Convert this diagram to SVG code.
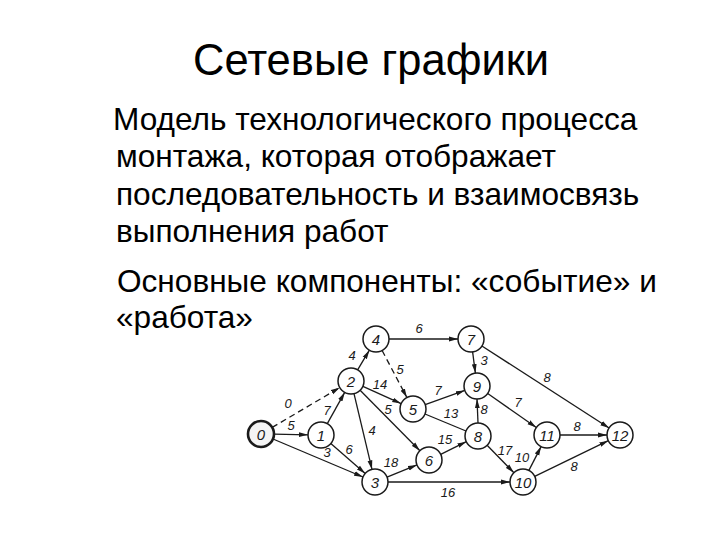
<svg xmlns="http://www.w3.org/2000/svg" width="720" height="540" viewBox="0 0 720 540">
<defs>
<marker id="ah" markerWidth="10" markerHeight="6" refX="9" refY="3" orient="auto" markerUnits="userSpaceOnUse">
<path d="M0,0.6 L9,3 L0,5.4 Z" fill="#1a1a1a"/>
</marker>
</defs>
<style>
.title{font-family:"Liberation Sans",Arial,sans-serif;font-size:43.5px;fill:#000}
.body{font-family:"Liberation Sans",Arial,sans-serif;font-size:31.6px;fill:#000}
.node circle{fill:#fff;stroke:#1a1a1a;stroke-width:1.5}
.node text{font-family:"Liberation Sans",Arial,sans-serif;font-style:italic;font-size:15px;fill:#1a1a1a;text-anchor:middle;dominant-baseline:central}
.edge{stroke:#1a1a1a;stroke-width:1.3;fill:none}
.arr{marker-end:url(#ah)}
.dash{stroke-dasharray:6,4}
.lbl{font-family:"Liberation Sans",Arial,sans-serif;font-style:italic;font-size:13px;fill:#1a1a1a;text-anchor:middle;dominant-baseline:central}
</style>
<rect width="720" height="540" fill="#fff"/>
<text class="title" x="193" y="75">Сетевые графики</text>
<g id="text">
<text class="body" x="113" y="130">Модель технологического процесса</text>
<text class="body" x="116" y="167">монтажа, которая отображает</text>
<text class="body" x="116" y="205">последовательность и взаимосвязь</text>
<text class="body" x="116" y="242">выполнения работ</text>
<text class="body" x="117" y="292">Основные компоненты: «событие» и</text>
<text class="body" x="116" y="328">«работа»</text>
</g>
<g id="connectors">
<line class="edge arr dash" x1="272.2" y1="427.4" x2="339.8" y2="387.6"/>
<line class="edge arr" x1="274" y1="434.2" x2="308" y2="434.8"/>
<line class="edge arr" x1="273" y1="439" x2="363" y2="477"/>
<line class="edge arr" x1="327.3" y1="423.6" x2="344.7" y2="392.4"/>
<line class="edge arr" x1="330.8" y1="443.5" x2="365.2" y2="473.5"/>
<line class="edge arr" x1="357.6" y1="369.8" x2="369.4" y2="350.2"/>
<line class="edge arr" x1="362.9" y1="386.4" x2="401.1" y2="403.6"/>
<line class="edge arr" x1="354" y1="393.6" x2="372" y2="469.4"/>
<line class="edge arr" x1="360.1" y1="390.3" x2="419.9" y2="450.7"/>
<line class="edge arr" x1="389" y1="339" x2="458" y2="339"/>
<line class="edge arr dash" x1="382.1" y1="350.5" x2="406.9" y2="397.5"/>
<line class="edge arr" x1="425.2" y1="404.6" x2="464.8" y2="390.4"/>
<line class="edge" x1="425" y1="414" x2="466" y2="431"/>
<line class="edge arr" x1="387" y1="477.1" x2="417" y2="464.9"/>
<line class="edge arr" x1="440.7" y1="454.3" x2="466.3" y2="441.7"/>
<line class="edge arr" x1="478" y1="423" x2="477" y2="399"/>
<line class="edge arr" x1="472.6" y1="351.9" x2="475.4" y2="373.1"/>
<line class="edge arr" x1="481.9" y1="346" x2="609.1" y2="428"/>
<line class="edge arr" x1="487.7" y1="393.5" x2="536.3" y2="427.5"/>
<line class="edge arr" x1="487.1" y1="445.3" x2="513.9" y2="472.7"/>
<line class="edge arr" x1="528.9" y1="470.4" x2="541.1" y2="446.6"/>
<line class="edge arr" x1="560" y1="435" x2="607" y2="435"/>
<line class="edge arr" x1="534.7" y1="476.3" x2="608.3" y2="440.7"/>
<line class="edge arr" x1="388" y1="482" x2="510" y2="482"/>
<text class="lbl" x="288" y="403">0</text>
<text class="lbl" x="291" y="425">5</text>
<text class="lbl" x="327" y="452">3</text>
<text class="lbl" x="327" y="410">7</text>
<text class="lbl" x="349" y="449">6</text>
<text class="lbl" x="352" y="355">4</text>
<text class="lbl" x="380" y="384">14</text>
<text class="lbl" x="372" y="430">4</text>
<text class="lbl" x="388" y="409">5</text>
<text class="lbl" x="419" y="328">6</text>
<text class="lbl" x="400" y="369">5</text>
<text class="lbl" x="438" y="390">7</text>
<text class="lbl" x="451" y="413">13</text>
<text class="lbl" x="391" y="462">18</text>
<text class="lbl" x="445" y="439">15</text>
<text class="lbl" x="484" y="409">8</text>
<text class="lbl" x="484" y="360">3</text>
<text class="lbl" x="547" y="377">8</text>
<text class="lbl" x="518" y="402">7</text>
<text class="lbl" x="505" y="450">17</text>
<text class="lbl" x="522" y="457">10</text>
<text class="lbl" x="577" y="426">8</text>
<text class="lbl" x="574" y="466">8</text>
<text class="lbl" x="448" y="492">16</text>
</g>
<g id="n0" class="node"><circle cx="261" cy="434" r="13" style="stroke-width:2.6;fill:#f4f4f4"/><text x="261" y="434">0</text></g>
<g id="n1" class="node"><circle cx="321" cy="435" r="13"/><text x="321" y="435">1</text></g>
<g id="n2" class="node"><circle cx="351" cy="381" r="13"/><text x="351" y="381">2</text></g>
<g id="n3" class="node"><circle cx="375" cy="482" r="13"/><text x="375" y="482">3</text></g>
<g id="n4" class="node"><circle cx="376" cy="339" r="13"/><text x="376" y="339">4</text></g>
<g id="n5" class="node"><circle cx="413" cy="409" r="13"/><text x="413" y="409">5</text></g>
<g id="n6" class="node"><circle cx="429" cy="460" r="13"/><text x="429" y="460">6</text></g>
<g id="n7" class="node"><circle cx="471" cy="339" r="13"/><text x="471" y="339">7</text></g>
<g id="n8" class="node"><circle cx="478" cy="436" r="13"/><text x="478" y="436">8</text></g>
<g id="n9" class="node"><circle cx="477" cy="386" r="13"/><text x="477" y="386">9</text></g>
<g id="n10" class="node"><circle cx="523" cy="482" r="13"/><text x="523" y="482">10</text></g>
<g id="n11" class="node"><circle cx="547" cy="435" r="13"/><text x="547" y="435">11</text></g>
<g id="n12" class="node"><circle cx="620" cy="435" r="13"/><text x="620" y="435">12</text></g>
</svg>
